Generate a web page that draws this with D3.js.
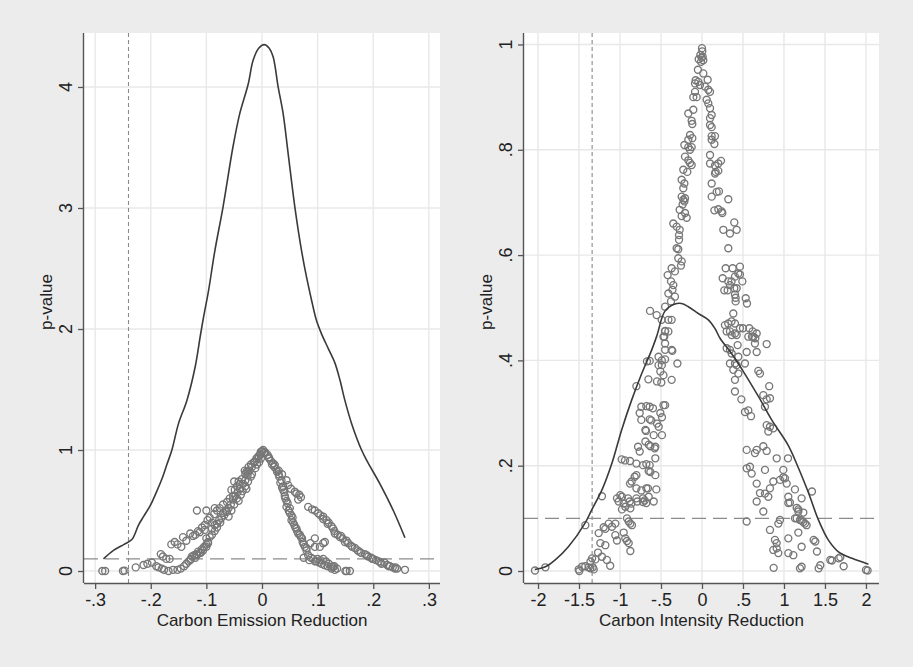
<!DOCTYPE html>
<html><head><meta charset="utf-8">
<script src="https://cdn.jsdelivr.net/npm/d3@7"></script>
<style>html,body{margin:0;padding:0;background:#ececec;}svg{display:block;}</style>
</head><body>
<svg id="chart" width="913" height="667"></svg>
<script>
// ---------- DATA ----------
const leftXTicks = [-0.3,-0.2,-0.1,0,0.1,0.2,0.3];
const leftXLabels = ["-.3","-.2","-.1","0",".1",".2",".3"];
const leftYTicks = [0,1,2,3,4];
const leftYLabels = ["0","1","2","3","4"];
const rightXTicks = [-2,-1.5,-1,-0.5,0,0.5,1,1.5,2];
const rightXLabels = ["-2","-1.5","-1","-.5","0",".5","1","1.5","2"];
const rightYTicks = [0,0.2,0.4,0.6,0.8,1];
const rightYLabels = ["0",".2",".4",".6",".8","1"];
const leftXTitle = "Carbon Emission Reduction";
const rightXTitle = "Carbon Intensity Reduction";
const yTitle = "p-value";
const leftVLine = -0.24, rightVLine = -1.34, pThreshold = 0.1;

const leftCurve = [[-0.285,0.10],[-0.267,0.17],[-0.248,0.22],[-0.234,0.26],[-0.222,0.38],[-0.213,0.45],[-0.201,0.54],[-0.19,0.65],[-0.18,0.76],[-0.171,0.88],[-0.162,1.0],[-0.15,1.22],[-0.135,1.41],[-0.12,1.69],[-0.111,1.94],[-0.105,2.1],[-0.096,2.32],[-0.085,2.64],[-0.07,3.01],[-0.052,3.51],[-0.04,3.78],[-0.025,4.02],[-0.016,4.22],[-0.006,4.32],[0.004,4.35],[0.013,4.32],[0.02,4.25],[0.029,4.0],[0.038,3.78],[0.047,3.45],[0.059,3.01],[0.071,2.65],[0.08,2.43],[0.089,2.24],[0.098,2.07],[0.107,1.96],[0.119,1.84],[0.131,1.72],[0.14,1.58],[0.149,1.41],[0.161,1.22],[0.179,1.0],[0.19,0.9],[0.212,0.72],[0.236,0.50],[0.257,0.275]];

const rightCurve = [[-2.04,0.003],[-1.91,0.008],[-1.79,0.021],[-1.63,0.046],[-1.43,0.09],[-1.345,0.116],[-1.22,0.154],[-1.10,0.204],[-0.98,0.268],[-0.857,0.325],[-0.735,0.375],[-0.613,0.42],[-0.55,0.447],[-0.45,0.494],[-0.33,0.507],[-0.25,0.508],[-0.167,0.502],[-0.045,0.489],[0.077,0.477],[0.16,0.46],[0.22,0.442],[0.36,0.413],[0.52,0.375],[0.69,0.331],[0.85,0.287],[1.05,0.239],[1.17,0.198],[1.30,0.148],[1.42,0.097],[1.54,0.059],[1.66,0.037],[1.83,0.024],[2.03,0.013]];

const leftPoints = [
[-0.287,0.0],[-0.282,0.0],[-0.25,0.0],[-0.247,0.003],[-0.227,0.03],[-0.213,0.05],[-0.206,0.06],[-0.198,0.07],[-0.19,0.04],[-0.186,0.03],[-0.18,0.02],[-0.176,0.01],[-0.168,0.0],[-0.16,0.01],[-0.152,0.01],[-0.146,0.02],[-0.14,0.04],[-0.136,0.06],[-0.132,0.08],[-0.128,0.1],[-0.126,0.12],[-0.122,0.13],[-0.118,0.14],[-0.115,0.16],[-0.112,0.15],[-0.108,0.18],[-0.104,0.2],[-0.1,0.22],[-0.097,0.24],[-0.1,0.27],
[-0.182,0.14],[-0.178,0.12],[-0.172,0.1],[-0.166,0.1],[-0.157,0.24],[-0.163,0.22],[-0.152,0.22],[-0.145,0.2],[-0.142,0.28],[-0.136,0.25],[-0.129,0.31],[-0.124,0.29],[-0.12,0.3],[-0.112,0.32],[-0.115,0.33],[-0.108,0.36],[-0.103,0.34],[-0.103,0.38],[-0.098,0.42],[-0.094,0.44],[-0.09,0.4],[-0.086,0.47],[-0.117,0.5],[-0.1,0.5],[-0.085,0.52],[-0.081,0.5],[-0.076,0.52],[-0.07,0.55],[-0.063,0.57],[-0.058,0.6],[-0.052,0.62],[-0.055,0.67],[-0.049,0.67],[-0.045,0.7],[-0.05,0.74],[-0.04,0.72],[-0.042,0.74],[-0.036,0.76],[-0.03,0.8],[-0.025,0.82],[-0.031,0.83],[-0.028,0.82],[-0.024,0.86],[-0.02,0.88],[-0.015,0.9],[-0.01,0.93],[-0.006,0.95],[-0.003,0.97],[0,0.99],[0.002,1.0],[0.004,0.98],[-0.002,0.985],
[-0.129,0.09],[-0.12,0.11],[-0.117,0.13],[-0.11,0.15],[-0.106,0.17],[-0.1,0.2],[-0.097,0.23],[-0.094,0.28],[-0.09,0.3],[-0.085,0.33],[-0.081,0.36],[-0.081,0.39],[-0.077,0.42],[-0.073,0.44],[-0.068,0.46],[-0.063,0.49],[-0.06,0.52],[-0.056,0.55],[-0.052,0.59],[-0.048,0.62],[-0.044,0.65],[-0.04,0.68],[-0.034,0.72],[-0.03,0.75],[-0.026,0.79],[-0.022,0.83],[-0.018,0.86],[-0.013,0.9],[-0.007,0.93],[-0.003,0.96],
[-0.09,0.35],[-0.085,0.38],[-0.075,0.40],[-0.07,0.48],[-0.065,0.5],[-0.06,0.45],[-0.055,0.5],[-0.05,0.55],[-0.045,0.6],[-0.042,0.58],[-0.038,0.63],[-0.035,0.66],[-0.03,0.7],[-0.028,0.68],[-0.025,0.74],[-0.02,0.78],[-0.018,0.8],[-0.012,0.85],[-0.009,0.88],[-0.005,0.9],[-0.002,0.93],
[0.006,0.98],[0.01,0.96],[0.013,0.93],[0.016,0.91],[0.02,0.89],[0.023,0.876],[0.026,0.84],[0.03,0.8],[0.035,0.75],[0.038,0.7],[0.038,0.67],[0.041,0.62],[0.044,0.58],[0.044,0.53],[0.048,0.5],[0.053,0.46],[0.053,0.42],[0.058,0.38],[0.062,0.35],[0.065,0.31],[0.07,0.28],[0.073,0.24],[0.077,0.2],[0.08,0.17],[0.083,0.13],[0.088,0.11],[0.092,0.1],[0.098,0.08],[0.103,0.07],[0.107,0.06],[0.112,0.05],[0.118,0.04],[0.125,0.035],[0.131,0.01],[0.135,0.02],[0.152,0.0],[0.158,0.0],
[0.012,0.94],[0.018,0.88],[0.022,0.86],[0.027,0.82],[0.031,0.78],[0.033,0.73],[0.036,0.69],[0.04,0.65],[0.042,0.6],[0.046,0.56],[0.05,0.52],[0.05,0.48],[0.055,0.44],[0.056,0.4],[0.06,0.36],[0.063,0.33],[0.068,0.3],[0.072,0.27],[0.075,0.22],[0.08,0.19],
[0.03,0.83],[0.036,0.8],[0.044,0.75],[0.047,0.71],[0.052,0.68],[0.059,0.655],[0.062,0.64],[0.065,0.59],[0.067,0.63],[0.07,0.61],
[0.095,0.27],[0.095,0.2],[0.11,0.23],[0.087,0.23],[0.104,0.2],[0.113,0.24],[0.1,0.1],[0.095,0.08],[0.105,0.09],[0.11,0.1],[0.115,0.08],[0.12,0.06],[0.125,0.02],[0.13,0.04],[0.128,0.035],[0.15,0.0],[0.075,0.11],[0.085,0.09],
[0.083,0.53],[0.09,0.51],[0.095,0.5],[0.101,0.477],[0.105,0.46],[0.11,0.45],[0.116,0.42],[0.12,0.4],[0.125,0.37],[0.128,0.35],[0.131,0.31],[0.136,0.3],[0.14,0.28],[0.145,0.27],[0.149,0.24],[0.155,0.23],[0.16,0.21],[0.167,0.19],[0.172,0.17],[0.178,0.15],[0.185,0.14],[0.191,0.12],[0.196,0.11],[0.2,0.1],[0.205,0.09],[0.21,0.08],[0.215,0.06],[0.22,0.07],[0.225,0.05],[0.23,0.04],[0.235,0.03],[0.239,0.02],[0.243,0.02],[0.257,0.01],[0.11,0.43],[0.118,0.39],[0.13,0.33],[0.142,0.29],[0.152,0.25],[0.162,0.2],[0.175,0.16],[0.188,0.13],[0.198,0.1],[0.213,0.07],[0.228,0.04],[0.24,0.03]
];

const rightPoints = [
[0,0.993],[0.004,0.987],[-0.02,0.98],[0.008,0.977],[-0.04,0.972],[0.016,0.97],[-0.012,0.967],[-0.004,0.975],
[-0.05,0.952],[0.016,0.945],[-0.077,0.932],[-0.045,0.929],[-0.085,0.926],[-0.024,0.923],[0.069,0.933],[0.037,0.92],[0.077,0.914],[0.098,0.91],[-0.085,0.91],[-0.106,0.9],[-0.065,0.9],[0.057,0.895],[0.077,0.888],[0.098,0.879],[0.118,0.866],[-0.167,0.869],[-0.106,0.876],[-0.126,0.855],[-0.118,0.849],[0.098,0.86],[0.098,0.847],[0.118,0.843],[0.118,0.826],[0.159,0.826],[0.118,0.819],[0.151,0.811],[-0.146,0.828],[-0.118,0.822],[-0.167,0.819],[-0.215,0.809],[-0.167,0.805],[-0.126,0.805],[-0.146,0.8],[-0.207,0.787],[-0.167,0.78],[-0.146,0.775],[-0.126,0.771],[-0.179,0.758],[-0.228,0.762],[-0.248,0.743],[-0.215,0.736],[-0.228,0.727],[-0.248,0.711],[-0.207,0.708],[-0.228,0.705],[-0.215,0.702],[-0.236,0.696],[-0.272,0.686],[-0.207,0.68],[-0.248,0.674],[-0.187,0.671],[-0.35,0.66],[-0.309,0.654],[-0.272,0.648],[-0.28,0.638],[-0.28,0.629],[-0.309,0.613],[-0.289,0.611],[-0.289,0.594],[-0.248,0.588],[-0.256,0.58],[-0.37,0.575],[-0.33,0.569],[-0.419,0.562],[-0.378,0.55],[-0.35,0.543],[-0.36,0.534],[-0.41,0.527],[-0.33,0.521],[-0.378,0.512],[-0.45,0.502],[-0.634,0.494],[-0.553,0.486],[-0.492,0.477],[-0.41,0.477],[-0.37,0.477],[-0.45,0.456],[-0.46,0.445],
[0.098,0.79],[0.098,0.774],[0.159,0.77],[0.199,0.774],[0.232,0.779],[0.167,0.758],[0.199,0.76],[0.159,0.755],[0.118,0.736],[0.118,0.711],[0.179,0.72],[0.207,0.721],[0.151,0.685],[0.199,0.687],[0.24,0.683],[0.248,0.68],[0.321,0.706],[0.26,0.648],[0.341,0.641],[0.394,0.662],[0.423,0.648],[0.321,0.613],[0.289,0.575],[0.374,0.575],[0.463,0.578],[0.252,0.556],[0.32,0.55],[0.36,0.55],[0.402,0.559],[0.443,0.565],[0.463,0.563],[0.341,0.543],[0.272,0.533],[0.313,0.533],[0.394,0.537],[0.423,0.537],[0.492,0.55],[0.402,0.525],[0.41,0.519],[0.41,0.512],[0.533,0.518],[0.549,0.508],[0.382,0.489],[0.28,0.467],[0.32,0.47],[0.36,0.474],[0.402,0.47],[0.463,0.461],[0.5,0.461],[0.577,0.461],[0.618,0.455],[0.667,0.451],[0.341,0.455],[0.402,0.451],[0.61,0.445],[0.65,0.442],
[-0.45,0.455],[-0.41,0.455],[-0.47,0.445],[-0.45,0.432],[-0.37,0.42],[-0.362,0.418],[-0.45,0.42],[-0.53,0.407],[-0.49,0.4],[-0.45,0.402],[-0.671,0.398],[-0.638,0.399],[-0.3,0.394],[-0.53,0.391],[-0.49,0.391],[-0.508,0.379],[-0.47,0.372],[-0.37,0.363],[-0.654,0.364],[-0.549,0.36],[-0.496,0.358],[-0.8,0.351],
[-0.74,0.312],[-0.679,0.313],[-0.638,0.312],[-0.598,0.309],[-0.47,0.315],[-0.45,0.315],[-0.76,0.3],[-0.74,0.287],[-0.638,0.288],[-0.618,0.286],[-0.508,0.3],[-0.488,0.292],[-0.549,0.28],[-0.528,0.274],[-0.488,0.258],[-0.589,0.258],[-0.69,0.268],[-0.683,0.266],[-0.69,0.246],[-0.65,0.24],[-0.63,0.237],[-0.569,0.236],[-0.577,0.233],[-0.78,0.236],[-0.76,0.227],[-0.569,0.214],[-0.72,0.201],[-0.679,0.203],[-0.638,0.201],[-0.8,0.204],[-0.98,0.212],[-0.939,0.21],[-0.878,0.209],[-0.8,0.182],[-0.821,0.179],[-0.65,0.19],[-0.63,0.188],[-0.569,0.182],[-0.878,0.166],[-0.858,0.17],[-0.8,0.157],[-0.74,0.153],[-0.679,0.157],[-0.659,0.157],[-0.557,0.155],[-0.65,0.141],[-0.589,0.132],[-0.72,0.138],[-0.699,0.134],[-0.679,0.129],[-0.72,0.131],[-0.8,0.138],[-0.789,0.132],[-0.902,0.138],[-0.882,0.132],[-0.862,0.128],[-0.996,0.144],[-0.976,0.141],[-1.037,0.138],[-1.016,0.132],[-0.955,0.128],[-0.935,0.122],[-0.874,0.119],[-0.976,0.117],[-1.22,0.142],[-0.915,0.1],[-0.894,0.094],[-0.874,0.09],[-0.854,0.087],[-1.057,0.09],[-1.138,0.09],[-1.098,0.084],[-1.199,0.083],[-1.179,0.08],[-1.423,0.087],[-0.955,0.073],[-1.057,0.068],[-1.037,0.058],[-0.935,0.062],[-0.915,0.057],[-0.894,0.053],[-0.874,0.038],[-1.26,0.072],[-1.24,0.053],[-1.179,0.049],[-1.268,0.035],[-1.22,0.027],[-1.3,0.022],[-1.34,0.024],[-1.36,0.018],[-1.16,0.021],[-1.12,0.01],[-1.463,0.008],[-1.504,0.003],[-1.496,0.0],[-1.423,0.009],[-1.382,0.007],[-1.362,0.005],[-1.321,0.003],[-1.333,0.007],[-2.037,0.001],[-1.91,0.007],
[0.301,0.455],[0.362,0.448],[0.423,0.448],[0.565,0.445],[0.626,0.445],[0.646,0.432],[0.301,0.423],[0.341,0.42],[0.362,0.413],[0.435,0.429],[0.545,0.416],[0.667,0.416],[0.789,0.431],[0.443,0.407],[0.341,0.394],[0.402,0.394],[0.423,0.391],[0.524,0.394],[0.382,0.382],[0.443,0.375],[0.402,0.363],[0.402,0.341],[0.48,0.326],[0.687,0.38],[0.707,0.375],[0.82,0.351],[0.524,0.302],[0.565,0.305],[0.598,0.294],[0.748,0.334],[0.789,0.326],[0.829,0.328],[0.768,0.312],[0.87,0.271],[0.789,0.277],[0.829,0.274],[0.809,0.265],[0.545,0.23],[0.646,0.224],[0.667,0.23],[0.748,0.237],[0.789,0.228],[0.911,0.214],[1.049,0.214],[0.545,0.195],[0.585,0.198],[0.606,0.185],[0.768,0.192],[0.87,0.17],[0.951,0.173],[0.992,0.178],[1.012,0.176],[0.992,0.192],[1.033,0.166],[0.667,0.166],[0.707,0.148],[0.768,0.147],[0.809,0.141],[0.829,0.157],[0.667,0.132],[0.748,0.113],[0.545,0.094],[1.053,0.141],[1.073,0.13],[1.053,0.129],[1.134,0.155],[1.215,0.138],[1.341,0.151],[1.155,0.12],[1.175,0.117],[1.155,0.1],[1.195,0.097],[1.215,0.096],[1.236,0.093],[1.256,0.09],[1.276,0.087],[1.134,0.1],[1.175,0.113],[1.236,0.111],[0.931,0.09],[0.951,0.097],[0.829,0.078],[0.89,0.059],[0.911,0.053],[0.87,0.04],[0.911,0.043],[0.931,0.034],[1.053,0.062],[1.175,0.073],[1.053,0.034],[1.114,0.03],[1.215,0.046],[1.362,0.059],[1.382,0.056],[1.402,0.037],[0.874,0.006],[1.195,0.005],[1.215,0.008],[1.423,0.005],[1.443,0.011],[1.565,0.021],[1.585,0.02],[1.667,0.024],[1.687,0.026],[1.728,0.009],[2.0,0.002],[2.02,0.001]
];

// ---------- DRAW ----------
const svg = d3.select("#chart");
svg.append("rect").attr("width",913).attr("height",667).attr("fill","#ececec");
const FONT = "'Liberation Sans', Arial, Helvetica, sans-serif";

function panel(cfg){
  const x = d3.scaleLinear().domain(cfg.xDomain).range([cfg.left, cfg.right]);
  const y = d3.scaleLinear().domain(cfg.yDomain).range([cfg.bottom, cfg.top]);
  const g = svg.append("g");
  g.append("rect").attr("x",cfg.left).attr("y",cfg.top)
    .attr("width",cfg.right-cfg.left).attr("height",cfg.bottom-cfg.top).attr("fill","#ffffff");
  // grid
  g.append("g").selectAll("line").data(cfg.xTicks).join("line")
    .attr("x1",d=>x(d)).attr("x2",d=>x(d)).attr("y1",cfg.top).attr("y2",cfg.bottom)
    .attr("stroke","#e8e8e8").attr("stroke-width",1.4);
  g.append("g").selectAll("line").data(cfg.yTicks).join("line")
    .attr("y1",d=>y(d)).attr("y2",d=>y(d)).attr("x1",cfg.left).attr("x2",cfg.right)
    .attr("stroke","#e8e8e8").attr("stroke-width",1.4);
  // reference lines
  g.append("line").attr("x1",x(cfg.vline)).attr("x2",x(cfg.vline)).attr("y1",cfg.top).attr("y2",cfg.bottom)
    .attr("stroke","#8a8a8a").attr("stroke-width",1.1).attr("stroke-dasharray","4,3");
  g.append("line").attr("x1",cfg.left).attr("x2",cfg.right).attr("y1",y(pThreshold)).attr("y2",y(pThreshold))
    .attr("stroke","#8c8c8c").attr("stroke-width",1.3).attr("stroke-dasharray","14,7");
  // scatter
  g.append("g").selectAll("circle").data(cfg.points).join("circle")
    .attr("cx",d=>x(d[0])).attr("cy",d=>y(d[1])).attr("r",3.5)
    .attr("fill","none").attr("stroke","#777777").attr("stroke-width",1.35);
  // curve
  g.append("path").datum(cfg.curve)
    .attr("d", d3.line().x(d=>x(d[0])).y(d=>y(d[1])).curve(d3.curveCatmullRom))
    .attr("fill","none").attr("stroke","#3a3a3a").attr("stroke-width",1.6);
  // axes
  const ax = g.append("g").attr("transform",`translate(0,${cfg.bottom})`)
    .call(d3.axisBottom(x).tickValues(cfg.xTicks).tickFormat((d,i)=>cfg.xLabels[i]).tickSize(6).tickPadding(3));
  ax.select(".domain").attr("d",`M${cfg.left},0.5H${cfg.right}`).attr("stroke","#555").attr("stroke-width",1.4);
  ax.selectAll(".tick line").attr("stroke","#555").attr("stroke-width",1.3);
  ax.selectAll(".tick text").attr("font-family",FONT).attr("font-size",18).attr("fill","#222").attr("dy","0.78em");
  const ay = g.append("g").attr("transform",`translate(${cfg.left},0)`)
    .call(d3.axisLeft(y).tickValues(cfg.yTicks).tickFormat("").tickSize(6));
  ay.select(".domain").attr("d",`M-0.5,${cfg.top}V${cfg.bottom}`).attr("stroke","#555").attr("stroke-width",1.4);
  ay.selectAll(".tick line").attr("stroke","#555").attr("stroke-width",1.3);
  g.append("g").selectAll("text").data(cfg.yTicks).join("text")
    .attr("transform",(d)=>`translate(${cfg.left-12},${y(d)}) rotate(-90)`)
    .attr("text-anchor","middle").attr("font-family",FONT).attr("font-size",18).attr("fill","#222")
    .text((d,i)=>cfg.yLabels[i]);
  // titles
  g.append("text").attr("x",(cfg.left+cfg.right)/2).attr("y",626).attr("text-anchor","middle")
    .attr("font-family",FONT).attr("font-size",17).attr("fill","#222").text(cfg.xTitle);
  g.append("text").attr("transform",`translate(${cfg.yTitleX},302) rotate(-90)`).attr("text-anchor","middle")
    .attr("font-family",FONT).attr("font-size",17).attr("fill","#222").text(yTitle);
}

panel({left:84,right:440,top:33,bottom:583,xDomain:[-0.32,0.32],yDomain:[-0.099,4.446],
  xTicks:leftXTicks,xLabels:leftXLabels,yTicks:leftYTicks,yLabels:leftYLabels,
  points:leftPoints,curve:leftCurve,vline:leftVLine,xTitle:leftXTitle,yTitleX:52});
panel({left:524,right:879,top:33,bottom:583,xDomain:[-2.171,2.159],yDomain:[-0.0228,1.0218],
  xTicks:rightXTicks,xLabels:rightXLabels,yTicks:rightYTicks,yLabels:rightYLabels,
  points:rightPoints,curve:rightCurve,vline:rightVLine,xTitle:rightXTitle,yTitleX:492});
</script>
</body></html>
